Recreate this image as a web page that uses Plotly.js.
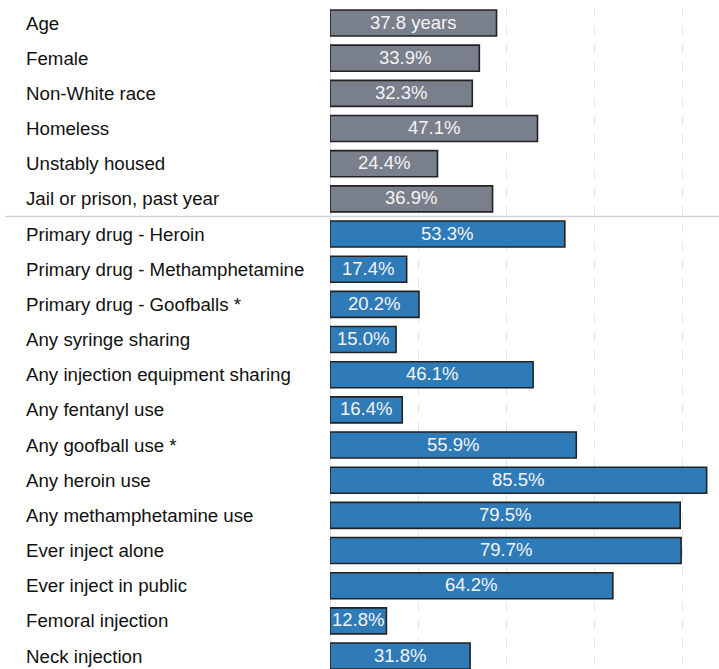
<!DOCTYPE html>
<html>
<head>
<meta charset="utf-8">
<script src="https://cdn.plot.ly/plotly-3.0.1.min.js"></script>
<style>html,body{margin:0;padding:0;background:#fff;}#chart{width:719px;height:669px;}</style>
</head>
<body>
<div id="chart"></div>
<script>
const categories = [
  "Age", "Female", "Non-White race", "Homeless", "Unstably housed", "Jail or prison, past year",
  "Primary drug - Heroin", "Primary drug - Methamphetamine", "Primary drug - Goofballs *",
  "Any syringe sharing", "Any injection equipment sharing", "Any fentanyl use",
  "Any goofball use *", "Any heroin use", "Any methamphetamine use", "Ever inject alone",
  "Ever inject in public", "Femoral injection", "Neck injection"
];
const values = [37.8, 33.9, 32.3, 47.1, 24.4, 36.9, 53.3, 17.4, 20.2, 15.0, 46.1, 16.4, 55.9, 85.5, 79.5, 79.7, 64.2, 12.8, 31.8];
const valueLabels = ["37.8 years", "33.9%", "32.3%", "47.1%", "24.4%", "36.9%", "53.3%", "17.4%", "20.2%", "15.0%", "46.1%", "16.4%", "55.9%", "85.5%", "79.5%", "79.7%", "64.2%", "12.8%", "31.8%"];
const groups = ["demo", "demo", "demo", "demo", "demo", "demo", "drug", "drug", "drug", "drug", "drug", "drug", "drug", "drug", "drug", "drug", "drug", "drug", "drug"];

const groupColors = {demo: "#7a7f8c", drug: "#2e7bb8"};
const FONT = "'Liberation Sans', Arial, Helvetica, sans-serif";

const trace = {
  type: "bar",
  orientation: "h",
  x: values,
  y: categories,
  width: 0.74,
  marker: {
    color: groups.map(g => groupColors[g]),
    line: {color: "#222222", width: 1.6}
  },
  hoverinfo: "none",
  textposition: "none"
};

const annotations = [];
categories.forEach((c, i) => {
  annotations.push({
    xref: "paper", yref: "y", x: -0.7866, y: c, xanchor: "left", yanchor: "middle",
    text: c, showarrow: false, font: {family: FONT, size: 18.7, color: "#111111"}
  });
  annotations.push({
    xref: "x", yref: "y", x: values[i] / 2, y: c, xanchor: "center", yanchor: "middle",
    yshift: 1,
    text: valueLabels[i], showarrow: false, font: {family: FONT, size: 18.5, color: "#f4f4f4"}
  });
});

const layout = {
  width: 719, height: 669,
  margin: {l: 330, r: 0, t: 8, b: 0, pad: 0},
  paper_bgcolor: "#ffffff", plot_bgcolor: "#ffffff",
  showlegend: false,
  font: {family: FONT},
  xaxis: {
    range: [0, 88.3], showticklabels: false, ticks: "",
    showgrid: true, gridcolor: "#e6e6e6", griddash: "dash", gridwidth: 1.2,
    tickvals: [20, 40, 60, 80],
    zeroline: false, showline: false, fixedrange: true
  },
  yaxis: {
    type: "category", range: [18.368, -0.4265],
    showticklabels: false, ticks: "", showgrid: false, zeroline: false, showline: false
  },
  shapes: [
    {type: "line", xref: "x", yref: "paper", x0: 0, x1: 0, y0: 0, y1: 1,
     line: {color: "#cccccc", width: 1.2}, layer: "below"},
    {type: "line", xref: "paper", yref: "y", x0: -0.835, x1: 1, y0: 5.5, y1: 5.5,
     line: {color: "#d4d4d4", width: 1.6}, layer: "above"}
  ],
  annotations: annotations
};

Plotly.newPlot("chart", [trace], layout, {displayModeBar: false, staticPlot: true});
</script>
</body>
</html>
